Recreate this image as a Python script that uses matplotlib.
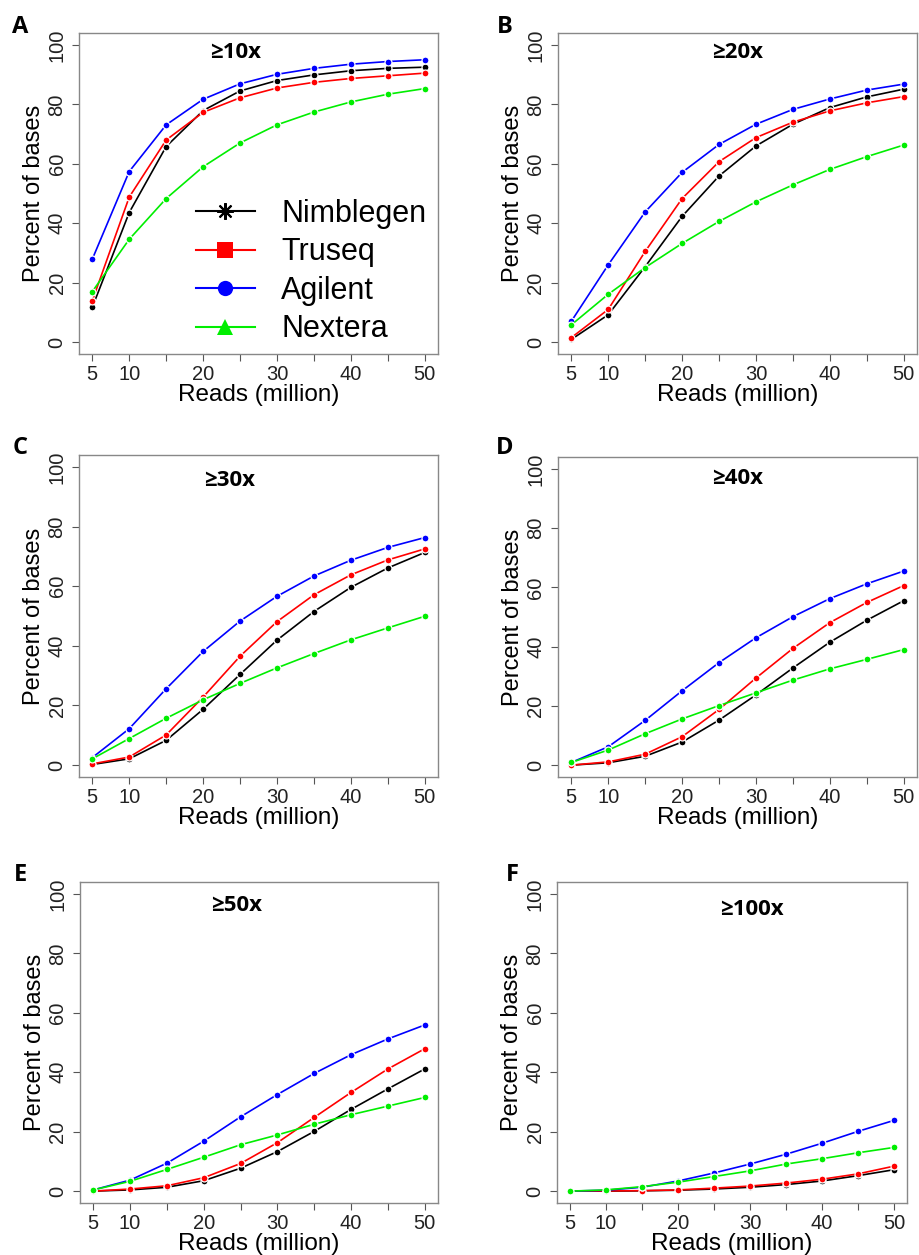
import matplotlib
matplotlib.use("Agg")
import matplotlib.pyplot as plt
from matplotlib.lines import Line2D

reads = [5, 10, 15, 20, 25, 30, 35, 40, 45, 50]
xtick_labels = ["5", "10", "", "20", "", "30", "", "40", "", "50"]
yticks = [0, 20, 40, 60, 80, 100]

kits = ["Nimblegen", "Truseq", "Agilent", "Nextera"]

# percent of bases covered, one list per kit and depth
nimblegen_10x = [11.7, 43.6, 65.8, 77.9, 84.5, 88.0, 89.9, 91.3, 92.1, 92.5]
truseq_10x = [13.9, 48.8, 68.0, 77.3, 82.2, 85.5, 87.4, 88.7, 89.6, 90.5]
agilent_10x = [27.9, 57.4, 73.1, 81.7, 86.9, 90.1, 92.1, 93.5, 94.4, 95.0]
nextera_10x = [17.0, 34.6, 48.3, 59.0, 67.0, 73.1, 77.4, 80.8, 83.4, 85.3]

nimblegen_20x = [0.9, 9.2, 25.4, 42.3, 55.9, 66.0, 73.3, 78.9, 82.5, 85.1]
truseq_20x = [1.5, 11.0, 30.5, 48.3, 60.7, 68.8, 74.0, 77.8, 80.5, 82.6]
agilent_20x = [7.0, 26.0, 43.8, 57.1, 66.5, 73.3, 78.3, 81.8, 84.8, 86.8]
nextera_20x = [5.8, 16.1, 25.1, 33.2, 40.6, 47.2, 52.9, 58.1, 62.4, 66.3]

nimblegen_30x = [0.2, 2.1, 8.3, 18.7, 30.4, 41.9, 51.5, 59.6, 66.1, 71.3]
truseq_30x = [0.4, 2.7, 10.1, 22.8, 36.5, 48.1, 57.1, 63.8, 68.8, 72.5]
agilent_30x = [2.5, 12.2, 25.6, 38.1, 48.3, 56.6, 63.4, 68.7, 73.0, 76.3]
nextera_30x = [2.1, 8.9, 15.7, 21.9, 27.4, 32.6, 37.4, 42.0, 46.0, 49.9]

nimblegen_40x = [0.0, 0.8, 3.0, 7.8, 15.2, 23.7, 32.8, 41.5, 48.9, 55.5]
truseq_40x = [0.0, 1.1, 3.7, 9.6, 18.8, 29.4, 39.4, 48.1, 54.9, 60.6]
agilent_40x = [0.9, 6.2, 15.1, 25.1, 34.6, 43.0, 50.1, 56.2, 61.2, 65.5]
nextera_40x = [0.9, 5.1, 10.6, 15.6, 20.1, 24.4, 28.7, 32.5, 35.7, 39.0]

nimblegen_50x = [0.0, 0.4, 1.3, 3.5, 7.7, 13.3, 20.1, 27.5, 34.4, 41.1]
truseq_50x = [0.0, 0.7, 1.8, 4.5, 9.3, 16.3, 24.8, 33.2, 41.1, 47.9]
agilent_50x = [0.4, 3.7, 9.4, 16.8, 25.0, 32.5, 39.6, 45.9, 51.2, 55.9]
nextera_50x = [0.4, 3.3, 7.3, 11.4, 15.6, 18.9, 22.5, 25.7, 28.6, 31.5]

nimblegen_100x = [0.0, 0.0, 0.1, 0.3, 0.7, 1.3, 2.2, 3.4, 5.2, 7.2]
truseq_100x = [0.0, 0.05, 0.15, 0.4, 1.0, 1.7, 2.7, 4.0, 5.8, 8.4]
agilent_100x = [0.0, 0.3, 1.3, 3.4, 6.1, 9.1, 12.4, 16.1, 20.1, 23.8]
nextera_100x = [0.0, 0.4, 1.5, 3.0, 4.9, 6.8, 9.1, 10.9, 12.9, 14.7]

panels = [
    ("A", "\u226510x", [nimblegen_10x, truseq_10x, agilent_10x, nextera_10x]),
    ("B", "\u226520x", [nimblegen_20x, truseq_20x, agilent_20x, nextera_20x]),
    ("C", "\u226530x", [nimblegen_30x, truseq_30x, agilent_30x, nextera_30x]),
    ("D", "\u226540x", [nimblegen_40x, truseq_40x, agilent_40x, nextera_40x]),
    ("E", "\u226550x", [nimblegen_50x, truseq_50x, agilent_50x, nextera_50x]),
    ("F", "\u2265100x", [nimblegen_100x, truseq_100x, agilent_100x, nextera_100x]),
]

colors = ["black", "#ff0000", "#0000ff", "#00ee00"]
legend_markers = [(8, 2, 0), "s", "o", "^"]

W, H = 919, 1255
# axes boxes in pixels: left, top, right, bottom
boxes = [(79, 33, 438, 354), (558, 33, 917, 354),
         (79, 455, 438, 777), (558, 457, 917, 777),
         (80, 882, 438, 1203), (557, 882, 907, 1203)]
title_pos = [(0.435, 0.94), (0.5, 0.938), (0.42, 0.922),
             (0.5, 0.934), (0.436, 0.928), (0.557, 0.913)]
letter_pos = [(20, 27), (505, 27), (20, 448), (505, 448), (20, 875), (512, 875)]

plt.rcParams["font.family"] = ["Liberation Sans", "DejaVu Sans"]

fig = plt.figure(figsize=(W / 100, H / 100), dpi=100)

for i, (letter, title, series) in enumerate(panels):
    l, t, r, b = boxes[i]
    ax = fig.add_axes([l / W, 1 - b / H, (r - l) / W, (b - t) / H])
    for j, vals in enumerate(series):
        ax.plot(reads, vals, color=colors[j], lw=1.2, marker="o", ms=5,
                mfc=colors[j], mec="white", mew=0.9, zorder=3 + j * 0.1)
    ax.set_xlim(3.2, 51.8)
    ax.set_ylim(-4, 104)
    ax.set_xticks(reads)
    ax.set_xticklabels(xtick_labels)
    ax.set_yticks(yticks)
    ax.set_yticklabels([str(v) for v in yticks], rotation=90, va="center")
    ax.tick_params(direction="out", length=5, width=0.8, color="#555555",
                   labelsize=14.5, labelcolor="#222222")
    ax.tick_params(axis="x", pad=3)
    ax.tick_params(axis="y", pad=4)
    for sp in ax.spines.values():
        sp.set_color("#888888")
        sp.set_linewidth(1.0)
    ax.set_xlabel("Reads (million)", fontsize=17.5, labelpad=0)
    ax.set_ylabel("Percent of bases", fontsize=17, labelpad=2)
    ax.text(title_pos[i][0], title_pos[i][1], title, transform=ax.transAxes,
            ha="center", va="center", fontsize=16, fontweight="bold",
            family=["Open Sans", "DejaVu Sans"])
    fig.text(letter_pos[i][0] / W, 1 - letter_pos[i][1] / H, letter,
             ha="center", va="center", fontsize=17, fontweight="bold",
             family=["Open Sans", "DejaVu Sans"])

    if i == 0:
        handles = []
        for j, k in enumerate(kits):
            mk = legend_markers[j]
            h = Line2D([0], [0], color=colors[j], lw=1.5, marker=mk,
                       ms=12 if j == 0 else 11, mfc=colors[j], mec=colors[j],
                       mew=1.5 if j == 0 else 0)
            handles.append(h)
        ax.legend(handles, kits, loc="lower left", bbox_to_anchor=(0.325, 0.03),
                  frameon=False, fontsize=22, handlelength=1.95,
                  handletextpad=0.85, labelspacing=0.28, borderpad=0.0,
                  borderaxespad=0.0)

fig.savefig("out.png", dpi=100)
